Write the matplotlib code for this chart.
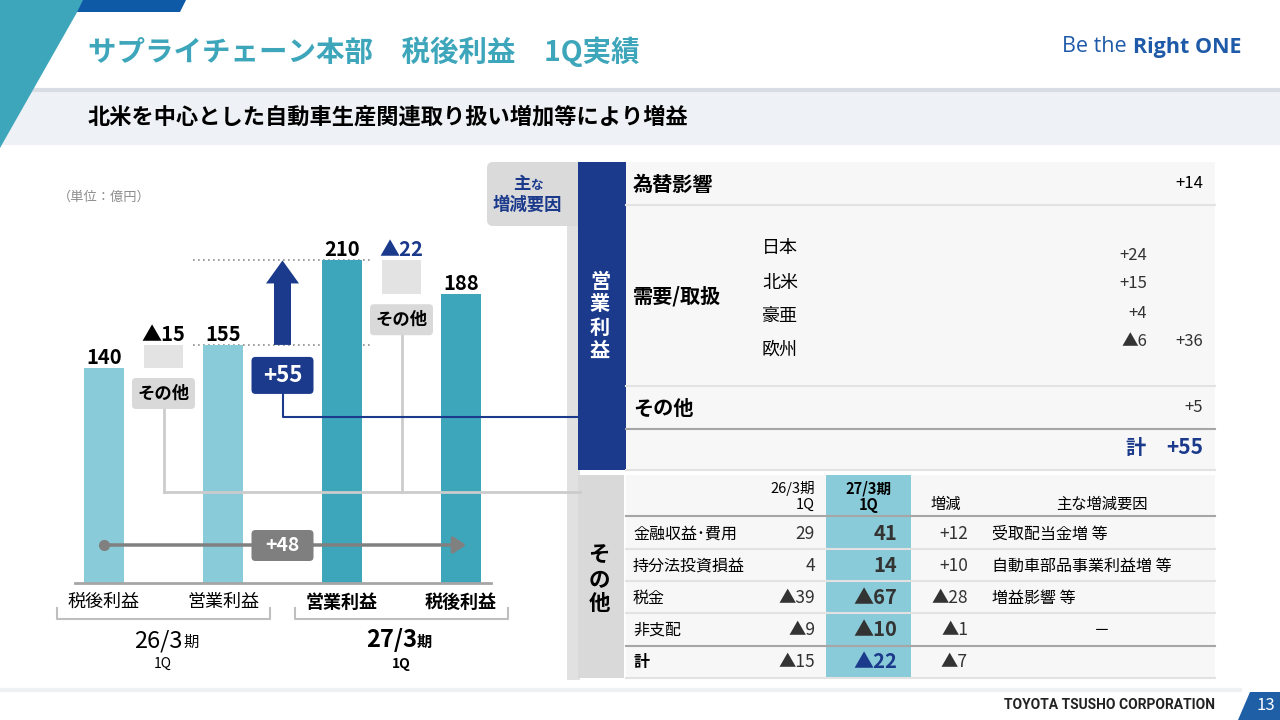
import numpy as np
import matplotlib.pyplot as plt
from matplotlib.patches import Polygon, FancyBboxPatch, Rectangle

plt.rcParams['font.family'] = ['Noto Sans CJK JP', 'DejaVu Sans']

# データ（億円）
bar_labels = ['税後利益', '営業利益', '営業利益', '税後利益']
bar_values = [140, 155, 210, 188]
other_values = [-15, -22]          # その他 26/3期1Q, 27/3期1Q
op_change = 55                     # 営業利益 増減
total_change = 48                  # 税後利益 増減

fx_label = '為替影響'
fx_value = 14
region_labels = ['日本', '北米', '豪亜', '欧州']
region_values = [24, 15, 4, -6]
demand_total = 36
op_other = 5

other_items = ['金融収益･費用', '持分法投資損益', '税金', '非支配', '計']
other_prev = [29, 4, -39, -9, -15]
other_curr = [41, 14, -67, -10, -22]
other_diff = [12, 10, -28, -1, -7]
other_reason = ['受取配当金増 等', '自動車部品事業利益増 等', '増益影響 等', '－', '']

# 色
LIGHT = '#8ACBD9'
DARK = '#3EA6BB'
NAVY = '#1B3A8C'
GRAY_BOX = '#D9D9D9'


def fmt(v, plus=False):
    if v < 0:
        return f'▲{abs(v)}'
    return f'+{v}' if plus else f'{v}'


fig = plt.figure(figsize=(12.8, 7.2), dpi=100)

# 背景（ピクセル座標）
bg = fig.add_axes([0, 0, 1, 1], zorder=0)
bg.set_xlim(0, 1280)
bg.set_ylim(720, 0)
bg.axis('off')

# 棒グラフ
ax = fig.add_axes([44.5 / 1280, (720 - 583) / 720, 476 / 1280, 384 / 720], zorder=1)
ax.patch.set_alpha(0)
ax.set_xlim(-0.5, 3.5)
ax.set_ylim(0, 250)
ax.axis('off')

# 前景（ピクセル座標）
fg = fig.add_axes([0, 0, 1, 1], zorder=2)
fg.patch.set_alpha(0)
fg.set_xlim(0, 1280)
fg.set_ylim(720, 0)
fg.axis('off')


def to_px(x, v):
    d = ax.transData.transform((x, v))
    return d[0], 720 - d[1]


def rbox(a, x0, y0, x1, y1, color, r=4, z=2):
    a.add_patch(FancyBboxPatch((x0 + r, y0 + r), x1 - x0 - 2 * r, y1 - y0 - 2 * r,
                               boxstyle=f'round,pad={r}', fc=color, ec='none', zorder=z))


# ---- スライドの枠 ----
bg.add_patch(Rectangle((0, 88), 1280, 57, fc='#EEF1F5', ec='none', zorder=0.5))
bg.plot([0, 1280], [89.5, 89.5], color='#D7DDE3', lw=3, zorder=0.6)
bg.add_patch(Polygon([(0, 0), (84, 0), (0, 148)], fc=DARK, ec='none', zorder=1))
bg.add_patch(Polygon([(83, 0), (186, 0), (180, 12), (77, 12)], fc='#0F5AA6', ec='none', zorder=1))
bg.text(88, 52, 'サプライチェーン本部　税後利益　1Q実績', fontsize=20.5, fontweight='bold',
        color=DARK, va='center')
bg.text(88, 117, '北米を中心とした自動車生産関連取り扱い増加等により増益', fontsize=16,
        fontweight='bold', color='black', va='center')
bg.text(1062, 47, 'Be the', fontsize=15.5, family='Open Sans', color='#1E5AA8', va='center')
bg.text(1133, 47, 'Right ONE', fontsize=15.5, family='Open Sans', fontweight='bold',
        color='#1E5AA8', va='center', ha='left')

bg.plot([0, 1240], [690, 690], color='#EEF1F4', lw=3)
bg.text(1215, 705, 'TOYOTA TSUSHO CORPORATION', fontsize=10, family='Roboto',
        fontweight='bold', color='#222222', ha='right', va='center')
bg.add_patch(Polygon([(1250, 692), (1280, 692), (1280, 720), (1238, 720)], fc='#1F5FA6', ec='none'))
bg.text(1266, 706, '13', fontsize=12, color='white', ha='center', va='center')

bg.text(58, 197, '（単位：億円）', fontsize=9.5, color='#8C8C8C', va='center')

# ---- 棒 ----
bar_x = np.arange(len(bar_values))
other_x = [0.5, 2.5]
ax.bar(bar_x, bar_values, width=0.33, color=[LIGHT, LIGHT, DARK, DARK], zorder=2)
ax.bar(other_x, [-v for v in other_values], bottom=[bar_values[0], bar_values[3]],
       width=0.33, color='#E3E3E3', zorder=2)
ax.plot([-0.24, 3.25], [0, 0], color='#A6A6A6', lw=2, zorder=3, clip_on=False)

for x, v in zip(bar_x, bar_values):
    ax.annotate(f'{v}', (x, v), xytext=(0, 3), textcoords='offset points', ha='center',
                va='baseline', fontsize=14.5, fontweight='bold')
tops = [bar_values[1], bar_values[2]]
for x, v, t, c in zip(other_x, other_values, tops, ['black', NAVY]):
    ax.annotate(fmt(v), (x, t), xytext=(0, 3), textcoords='offset points', ha='center',
                va='baseline', fontsize=14.5, fontweight='bold', color=c)

for lv in [bar_values[1], bar_values[2]]:
    ax.plot([0.75, 2.25], [lv, lv], ls=(0, (1, 2)), color='#8C8C8C', lw=1.2, zorder=1)

# 営業利益増減の矢印
cx, yb = to_px(1.5, bar_values[1])
_, yt = to_px(1.5, bar_values[1] + op_change)
fg.add_patch(Polygon([(cx - 8.5, yb), (cx - 8.5, yt + 23), (cx - 16.5, yt + 23), (cx, yt),
                      (cx + 16.5, yt + 23), (cx + 8.5, yt + 23), (cx + 8.5, yb)],
                     fc=NAVY, ec='none', zorder=2))
rbox(fg, cx - 31, yb + 12, cx + 31, yb + 49, NAVY, r=4, z=4)
fg.text(cx, yb + 30.5, f'+{op_change}', fontsize=16, fontweight='bold', color='white',
        ha='center', va='center', zorder=5)

# その他ラベル
for x, b in zip(other_x, [bar_values[0], bar_values[3]]):
    px, py = to_px(x, b)
    rbox(fg, px - 31.5, py + 10, px + 31.5, py + 41, GRAY_BOX, r=4, z=4)
    fg.text(px, py + 25.5, 'その他', fontsize=12.5, fontweight='bold', ha='center',
            va='center', zorder=5)
    fg.plot([px, px], [py + 41, 492], color='#CCCCCC', lw=2, zorder=3)
fg.plot([to_px(0.5, 0)[0], 580], [492, 492], color='#CCCCCC', lw=2, zorder=3)
fg.plot([cx, cx, 580], [yb + 49, 417, 417], color=NAVY, lw=1.5, zorder=3)

# 税後利益増減の矢印
x0p = to_px(0, 0)[0]
x3p = to_px(3, 0)[0]
fg.plot([x0p], [545], 'o', color='#808080', ms=7, zorder=4)
fg.annotate('', xy=(x3p + 5, 545), xytext=(x0p, 545),
            arrowprops=dict(arrowstyle='-|>,head_length=0.75,head_width=0.5', color='#808080',
                            lw=2.5, mutation_scale=10, shrinkA=0, shrinkB=0), zorder=4)
mx = to_px(1.5, 0)[0]
rbox(fg, mx - 31, 530, mx + 31, 561, '#7F7F7F', r=4, z=5)
fg.text(mx, 545.5, f'+{total_change}', fontsize=14, fontweight='bold', color='white',
        ha='center', va='center', zorder=6)

# 軸ラベル
for i, (x, lab) in enumerate(zip(bar_x, bar_labels)):
    px = to_px(x, 0)[0]
    fg.text(px, 602, lab, fontsize=13, ha='center', va='center',
            fontweight='bold' if i >= 2 else 'normal')
for a, b in [(0, 1), (2, 3)]:
    l = to_px(a, 0)[0] - 47
    r = to_px(b, 0)[0] + 47
    fg.plot([l, l, r, r], [608, 619, 619, 608], color='#BFBFBF', lw=1.5)
fg.text(183, 647, '26/3', fontsize=17, ha='right', va='baseline')
fg.text(183, 647, '期', fontsize=11, ha='left', va='baseline')
fg.text(163, 664, '1Q', fontsize=10, ha='center', va='center')
fg.text(417, 647, '27/3', fontsize=17, ha='right', va='baseline', fontweight='bold')
fg.text(417, 647, '期', fontsize=11, ha='left', va='baseline', fontweight='bold')
fg.text(401, 664, '1Q', fontsize=10, ha='center', va='center', fontweight='bold')

# ---- 右側：主な増減要因 ----
bg.add_patch(Rectangle((567, 226), 13, 454, fc='#E1E1E1', ec='none'))
rbox(bg, 487, 162, 584, 226, '#DADADA', r=6, z=1)
bg.text(530, 184, '主', fontsize=12.5, fontweight='bold', color=NAVY, ha='right', va='center')
bg.text(530, 186, 'な', fontsize=9, fontweight='bold', color=NAVY, ha='left', va='center')
bg.text(527, 205, '増減要因', fontsize=12.5, fontweight='bold', color=NAVY, ha='center', va='center')

bg.add_patch(Rectangle((626, 162), 589, 308, fc='#F7F7F7', ec='none', zorder=1))
bg.add_patch(Rectangle((578, 162), 48, 308, fc=NAVY, ec='none', zorder=2))
for i, ch in enumerate('営業利益'):
    bg.text(600, 281 + i * 23, ch, fontsize=14.5, fontweight='bold', color='white',
            ha='center', va='center', zorder=3)
for y, c in [(205, '#E3E3E3'), (386, '#E3E3E3'), (429, '#A6A6A6'), (470, '#E3E3E3')]:
    bg.plot([626, 1215], [y, y], color=c, lw=1.5, zorder=2)

bg.text(633, 184, fx_label, fontsize=14.5, fontweight='bold', va='center', zorder=3)
bg.text(1203, 184, fmt(fx_value, True), fontsize=12, ha='right', va='center', zorder=3)
bg.text(633, 296, '需要/取扱', fontsize=14.5, fontweight='bold', va='center', zorder=3)
for lab, v, yl, yv in zip(region_labels, region_values, [248, 283, 316, 350], [256, 284, 313, 341]):
    bg.text(762, yl, lab, fontsize=13, va='center', zorder=3)
    bg.text(1147, yv, fmt(v, True), fontsize=12, ha='right', va='center', color='#333333', zorder=3)
bg.text(1203, 341, fmt(demand_total, True), fontsize=12, ha='right', va='center', color='#333333', zorder=3)
bg.text(633, 408, 'その他', fontsize=14.5, fontweight='bold', va='center', zorder=3)
bg.text(1203, 408, fmt(op_other, True), fontsize=12, ha='right', va='center', color='#333333', zorder=3)
op_sum = fx_value + demand_total + op_other
bg.text(1146, 448, '計', fontsize=14.5, fontweight='bold', color=NAVY, ha='right', va='center', zorder=3)
bg.text(1203, 448, fmt(op_sum, True), fontsize=15, fontweight='bold', color=NAVY, ha='right',
        va='center', zorder=3)

# ---- 右下：その他 ----
bg.add_patch(Rectangle((626, 475), 589, 203, fc='#F7F7F7', ec='none', zorder=1))
bg.add_patch(Rectangle((578, 475), 46, 203, fc=GRAY_BOX, ec='none', zorder=2))
bg.add_patch(Rectangle((826, 475), 85, 203, fc=LIGHT, ec='none', zorder=2))
for i, ch in enumerate('その他'):
    bg.text(599, 555 + i * 24.5, ch, fontsize=15.5, fontweight='bold', ha='center', va='center', zorder=3)

bg.text(815, 488, '26/3期', fontsize=10.5, ha='right', va='center', zorder=3)
bg.text(815, 505, '1Q', fontsize=10.5, ha='right', va='center', zorder=3)
bg.text(869, 488, '27/3期', fontsize=10.5, fontweight='bold', ha='center', va='center', zorder=3)
bg.text(869, 505, '1Q', fontsize=10.5, fontweight='bold', ha='center', va='center', zorder=3)
bg.text(946, 504, '増減', fontsize=11, ha='center', va='center', zorder=3)
bg.text(1102, 504, '主な増減要因', fontsize=11, ha='center', va='center', zorder=3)

for y, c in [(516, '#A6A6A6'), (549, '#E2E2E2'), (581, '#E2E2E2'), (613, '#E2E2E2'),
             (646, '#A6A6A6'), (678, '#E2E2E2')]:
    bg.plot([626, 1215], [y, y], color=c, lw=1.5, zorder=2.5)

row_y = [534, 566, 598, 630, 662]
for i, y in enumerate(row_y):
    last = i == len(row_y) - 1
    bg.text(633, y, other_items[i], fontsize=11.5, va='center',
            fontweight='bold' if last else 'normal', zorder=3)
    bg.text(815, y, fmt(other_prev[i]), fontsize=12.5, ha='right', va='center', color='#333333', zorder=3)
    bg.text(897, y, fmt(other_curr[i]), fontsize=14.5, ha='right', va='center', fontweight='bold',
            color=NAVY if last else '#333333', zorder=3)
    bg.text(968, y, fmt(other_diff[i], True), fontsize=12.5, ha='right', va='center', color='#333333', zorder=3)
    if other_reason[i] == '－':
        bg.text(1102, y, other_reason[i], fontsize=11.5, ha='center', va='center', zorder=3)
    else:
        bg.text(992, y, other_reason[i], fontsize=11.5, va='center', zorder=3)

fig.savefig('out.png', dpi=100)
